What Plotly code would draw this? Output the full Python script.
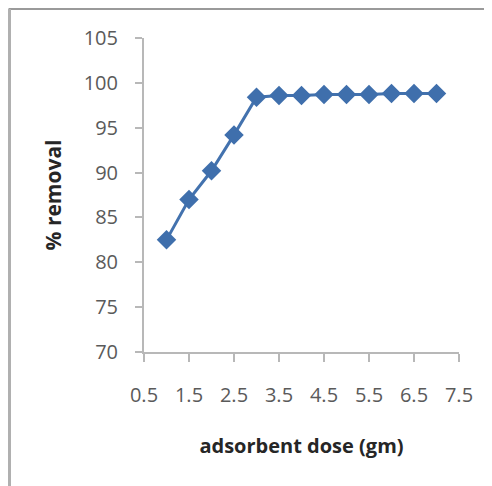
import plotly.graph_objects as go

dose = [1, 1.5, 2, 2.5, 3, 3.5, 4, 4.5, 5, 5.5, 6, 6.5, 7]
removal = [82.5, 87.0, 90.2, 94.2, 98.4, 98.6, 98.6, 98.7, 98.7, 98.7, 98.8, 98.8, 98.8]
x_ticks = [0.5, 1.5, 2.5, 3.5, 4.5, 5.5, 6.5, 7.5]
y_ticks = [70, 75, 80, 85, 90, 95, 100, 105]

fig = go.Figure()
fig.add_trace(go.Scatter(
    x=dose, y=removal, mode="lines+markers",
    line=dict(color="#4372AE", width=3),
    marker=dict(symbol="diamond", size=15, color="#3F6FAC"),
    showlegend=False,
))

tickfont = dict(family="Open Sans, Liberation Sans, sans-serif", size=20, color="#5a5a5a")

fig.update_xaxes(
    range=[0.5, 7.5], tickvals=x_ticks, ticktext=[f"{v:.1f}" for v in x_ticks],
    showgrid=False, zeroline=False, showline=True, linecolor="#b8b8b8", linewidth=2,
    ticks="outside", ticklen=8, tickcolor="#b8b8b8", tickwidth=2,
    tickfont=tickfont, ticklabelstandoff=16,
    title=dict(text="<b>adsorbent dose (gm)</b>",
               font=dict(family="Open Sans, Liberation Sans, sans-serif", size=20, color="#262626"),
               standoff=32),
)
fig.update_yaxes(
    range=[70, 105], tickvals=y_ticks,
    showgrid=False, zeroline=False, showline=True, linecolor="#b8b8b8", linewidth=2,
    ticks="outside", ticklen=7, tickcolor="#b8b8b8", tickwidth=2,
    tickfont=tickfont, ticklabelstandoff=13,
    title=dict(text="<b>% removal</b>",
               font=dict(family="Open Sans, Liberation Sans, sans-serif", size=21, color="#262626"),
               standoff=16),
)

# outer frame (page offset of 8px from body margin is accounted for)
fig.add_shape(type="line", xref="paper", yref="paper", x0=-0.43, x1=1.2, y0=1.092, y1=1.092,
              line=dict(color="#9a9a9a", width=2))
fig.add_shape(type="line", xref="paper", yref="paper", x0=-0.427, x1=-0.427, y0=1.092, y1=-0.5,
              line=dict(color="#b0b0b0", width=3))
fig.add_shape(type="line", xref="paper", yref="paper", x0=1.092, x1=1.092, y0=1.092, y1=-0.5,
              line=dict(color="#eeeeee", width=2))

fig.update_layout(
    width=484, height=478,
    margin=dict(l=136, r=33, t=30, b=134),
    paper_bgcolor="white", plot_bgcolor="white",
)
fig.write_html("out.html")
